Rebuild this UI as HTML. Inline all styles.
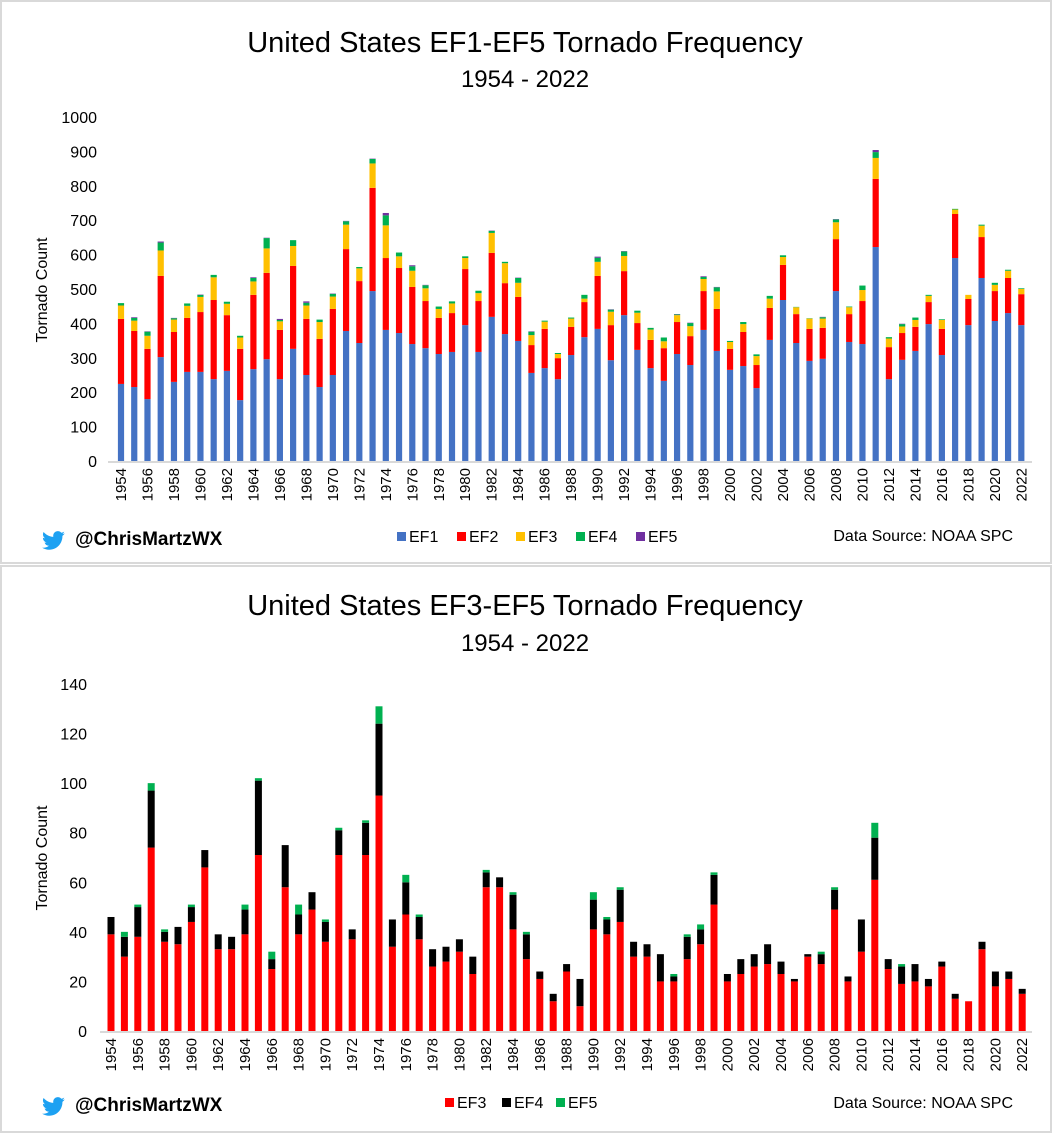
<!DOCTYPE html>
<html><head><meta charset="utf-8">
<style>
html,body{margin:0;padding:0;background:#fff;}
body{width:1053px;height:1134px;position:relative;overflow:hidden;font-family:"Liberation Sans",sans-serif;}
svg text{font-family:"Liberation Sans",sans-serif;}
</style></head>
<body>
<svg id="chart" width="1053" height="1134" xmlns="http://www.w3.org/2000/svg">
  <rect x="1" y="1" width="1050" height="562" fill="#fff" stroke="#d9d9d9" stroke-width="2"/>
  <rect x="1" y="566" width="1050" height="566" fill="#fff" stroke="#d9d9d9" stroke-width="2"/>
  <text x="525" y="52" font-size="29" text-anchor="middle" fill="#000">United States EF1-EF5 Tornado Frequency</text>
  <text x="525" y="87" font-size="24" text-anchor="middle" fill="#000">1954 - 2022</text>
  <text x="525" y="615" font-size="29" text-anchor="middle" fill="#000">United States EF3-EF5 Tornado Frequency</text>
  <text x="525" y="651" font-size="24" text-anchor="middle" fill="#000">1954 - 2022</text>
  <text transform="translate(47,290) rotate(-90)" font-size="16" text-anchor="middle">Tornado Count</text>
  <text transform="translate(47,858) rotate(-90)" font-size="16" text-anchor="middle">Tornado Count</text>
  <g id="top"></g>
  <g id="bot"></g>
  <g>
    <path transform="translate(42,529) scale(0.95)" fill="#1da1f2" d="M24 4.6c-.9.4-1.8.7-2.8.8 1-.6 1.8-1.6 2.2-2.7-1 .6-2 1-3.1 1.2C19.4 2.9 18.1 2.3 16.7 2.3c-2.7 0-4.9 2.2-4.9 4.9 0 .4 0 .8.1 1.1C7.8 8.1 4.2 6.1 1.7 3.2c-.4.7-.7 1.6-.7 2.5 0 1.7.9 3.2 2.200 4.1-.8 0-1.6-.2-2.2-.6v.1c0 2.4 1.7 4.4 3.9 4.8-.4.1-.8.2-1.3.2-.3 0-.6 0-.9-.1.6 2 2.4 3.4 4.6 3.4-1.7 1.3-3.8 2.1-6.1 2.1-.4 0-.8 0-1.2-.1 2.2 1.4 4.8 2.2 7.5 2.2 9.1 0 14-7.5 14-14v-.6c1-.7 1.8-1.6 2.4-2.5z"/>
    <text x="75" y="545" font-size="19" font-weight="bold">@ChrisMartzWX</text>
  </g>
  <text x="1013" y="541" font-size="16" text-anchor="end">Data Source: NOAA SPC</text>
  <g>
    <path transform="translate(42,1095) scale(0.95)" fill="#1da1f2" d="M24 4.6c-.9.4-1.8.7-2.8.8 1-.6 1.8-1.6 2.2-2.7-1 .6-2 1-3.1 1.2C19.4 2.9 18.1 2.3 16.7 2.3c-2.7 0-4.9 2.2-4.9 4.9 0 .4 0 .8.1 1.1C7.8 8.1 4.2 6.1 1.7 3.2c-.4.7-.7 1.6-.7 2.5 0 1.7.9 3.2 2.2 4.1-.8 0-1.6-.2-2.2-.6v.1c0 2.4 1.7 4.4 3.9 4.8-.4.1-.8.2-1.3.2-.3 0-.6 0-.9-.1.6 2 2.4 3.4 4.6 3.4-1.7 1.3-3.8 2.1-6.1 2.1-.4 0-.8 0-1.2-.1 2.2 1.4 4.8 2.2 7.5 2.2 9.1 0 14-7.5 14-14v-.6c1-.7 1.8-1.6 2.4-2.5z"/>
    <text x="75" y="1111" font-size="19" font-weight="bold">@ChrisMartzWX</text>
  </g>
  <text x="1013" y="1108" font-size="16" text-anchor="end">Data Source: NOAA SPC</text>
</svg>
<script>
const years = [];
for (let y = 1954; y <= 2022; y++) years.push(y);
const ef1 = [224,215,180,302,230,259,259,238,262,177,267,296,238,326,250,215,250,378,343,494,381,372,340,328,311,317,395,317,419,369,349,256,270,238,308,360,384,293,424,323,270,233,311,279,381,320,265,276,212,352,468,343,291,297,494,346,340,622,238,294,320,398,308,590,395,532,407,430,395];
const ef2 = [189,163,146,236,145,157,174,230,162,149,216,251,143,241,163,140,192,238,180,300,209,189,166,137,105,113,163,148,186,148,128,81,114,61,82,102,154,102,128,78,82,95,93,84,113,122,61,99,67,93,102,84,93,90,151,81,125,198,93,78,70,64,76,128,76,119,87,102,90];
const ef3 = [39,30,38,74,36,35,44,66,33,33,39,71,25,58,39,49,36,71,37,71,95,34,47,37,26,28,32,23,58,58,41,29,21,12,24,10,41,39,44,30,30,20,20,29,35,51,20,23,26,27,23,20,30,27,49,20,32,61,25,19,20,18,26,13,12,33,18,21,15];
const ef4 = [7,8,12,23,4,7,6,7,6,5,10,30,4,17,8,7,8,10,4,13,29,11,13,9,7,6,5,7,6,4,14,10,3,3,3,11,12,6,13,6,5,11,2,9,6,12,3,6,5,8,5,1,1,4,8,2,13,17,4,7,7,3,2,2,0,3,6,3,2];
const ef5 = [0,2,1,3,1,0,1,0,0,0,2,1,3,0,4,0,1,1,0,1,7,0,3,1,0,0,0,0,1,0,1,1,0,0,0,0,3,1,1,0,0,0,1,1,2,1,0,0,0,0,0,0,0,1,1,0,0,6,0,1,0,0,0,0,0,0,0,0,0];
const topTicks = [0,100,200,300,400,500,600,700,800,900,1000];
const botTicks = [0,20,40,60,80,100,120,140];
const topSeries = ["EF1","EF2","EF3","EF4","EF5"];
const botSeries = ["EF3","EF4","EF5"];
const colors = {EF1:"#4472c4",EF2:"#ff0000",EF3:"#ffc000",EF4:"#00b050",EF5:"#7030a0"};
const botColors = {EF3:"#ff0000",EF4:"#000000",EF5:"#00b050"};
const NS = "http://www.w3.org/2000/svg";
function mk(tag, attrs, parent){const e=document.createElementNS(NS,tag);for(const k in attrs)e.setAttribute(k,attrs[k]);parent.appendChild(e);return e;}

function drawChart(g, cfg){
  const yS = v => cfg.y0 - v * (cfg.y0 - cfg.yTop) / cfg.maxV;
  const xS = i => cfg.x0 + i * cfg.step;
  cfg.ticks.forEach(t => {
    const tx = mk('text',{x:cfg.tickX,y:yS(t)+6,'font-size':16,'text-anchor':'end',fill:'#000'},g);
    
    
    tx.textContent = t;
  });
  years.forEach((yr,i) => {
    let base = 0;
    cfg.series.forEach(s => {
      const v = cfg.data[s][i];
      if (v > 0) {
        const r = mk('rect',{x:xS(i)-cfg.bw/2,y:yS(base+v),width:cfg.bw,height:yS(base)-yS(base+v),fill:cfg.colors[s]},g);
        
        
      }
      base += v;
    });
    if ((yr - 1954) % 2 === 0) {
      const lx = xS(i)+5, ly = cfg.y0+7;
      const t = mk('text',{x:lx,y:ly,'font-size':15,'text-anchor':'end',transform:`rotate(-90 ${lx} ${ly})`},g);
      
      
      t.textContent = yr;
    }
  });
  const ax = mk('line',{x1:cfg.axL,x2:cfg.axR,y1:cfg.y0+1,y2:cfg.y0+1,stroke:'#d9d9d9','stroke-width':2},g);
  
  
  cfg.series.forEach((s,k) => {
    const lx = cfg.legX[k];
    const sq = mk('rect',{x:lx,y:cfg.legY-8,width:9,height:9,fill:cfg.colors[s]},g);
    
    
    const lt = mk('text',{x:lx+12,y:cfg.legY+2,'font-size':16},g);
    
    
    lt.textContent = s;
  });
}
drawChart(document.getElementById('top'),{
  y0:461, yTop:117, maxV:1000, x0:121, step:13.24, bw:6.2, tickX:97, axL:108, axR:1032,
  ticks:topTicks, series:topSeries, colors:colors,
  data:{EF1:ef1,EF2:ef2,EF3:ef3,EF4:ef4,EF5:ef5},
  legX:[397,457,516,576,636], legY:540
});
drawChart(document.getElementById('bot'),{
  y0:1031, yTop:684, maxV:140, x0:111, step:13.4, bw:7, tickX:87, axL:100, axR:1032,
  ticks:botTicks, series:botSeries, colors:botColors,
  data:{EF3:ef3,EF4:ef4,EF5:ef5},
  legX:[445,502,556], legY:1106
});
</script>
</body></html>
